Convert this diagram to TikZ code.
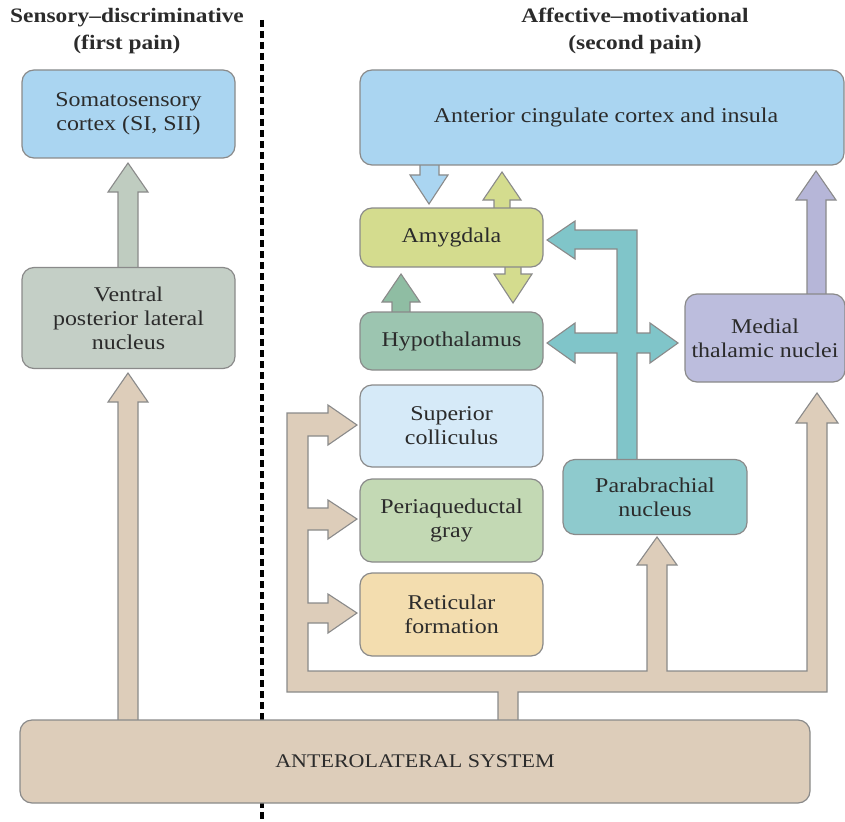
\documentclass[tikz,border=0pt]{standalone}
\usepackage{fontspec}
\setmainfont[FakeStretch=1.14]{Liberation Serif}
\definecolor{txt}{HTML}{2B2B2B}
\definecolor{bord}{HTML}{8A8A8A}
\definecolor{ssblue}{HTML}{AAD5F1}
\definecolor{vplgray}{HTML}{C4CFC6}
\definecolor{amygreen}{HTML}{D4DC8E}
\definecolor{hypgreen}{HTML}{9CC5B0}
\definecolor{scblue}{HTML}{D6EAF8}
\definecolor{paggreen}{HTML}{C3D9B4}
\definecolor{rfyellow}{HTML}{F3DDAF}
\definecolor{pbteal}{HTML}{8ECACD}
\definecolor{mtnlav}{HTML}{BCBDDD}
\definecolor{tanc}{HTML}{DDCDBA}
\definecolor{sagearrow}{HTML}{BFCCC0}
\definecolor{tealarrow}{HTML}{80C5C9}
\definecolor{hyparrow}{HTML}{8FBDA3}
\definecolor{lavarrow}{HTML}{B6B6D8}
\begin{document}
\begin{tikzpicture}[x=1pt,y=-1pt,
  box/.style={draw=bord, line width=1.2pt, rounded corners=12pt, inner sep=0pt,
    text=txt, align=center, font=\fontsize{21}{24}\selectfont},
  blk/.style={draw=bord, line width=1.1pt, line join=miter},
  header/.style={text=txt, align=center, font=\bfseries\fontsize{20.5}{26.5}\selectfont}]
\useasboundingbox (0,0) rectangle (845,821);

% divider
\draw[line width=3.5pt, dash pattern=on 7pt off 4pt] (262,20) -- (262,821);

% headers
\node[header] (hleft) at (127,31) {Sensory--discriminative\\(first pain)};
\node[header] (hright) at (635,31) {Affective--motivational\\(second pain)};

% block arrows (drawn below the boxes)
\draw[blk, fill=sagearrow] (118,272) -- (118,192) -- (108,192) -- (128,163) -- (148,192) -- (138,192) -- (138,272) -- cycle;
\draw[blk, fill=tanc] (118,725) -- (118,402) -- (108,402) -- (128,373) -- (148,402) -- (138,402) -- (138,725) -- cycle;
\draw[blk, fill=ssblue] (420,160) -- (420,175) -- (410,175) -- (429,204) -- (448,175) -- (439,175) -- (439,160) -- cycle;
\draw[blk, fill=amygreen] (494,214) -- (494,200) -- (483,200) -- (502,172) -- (521,200) -- (510,200) -- (510,214) -- cycle;
\draw[blk, fill=amygreen] (505,260) -- (505,274) -- (494,274) -- (513,303) -- (532,274) -- (521,274) -- (521,260) -- cycle;
\draw[blk, fill=hyparrow] (392,318) -- (392,302) -- (382,302) -- (401,274) -- (420,302) -- (410,302) -- (410,318) -- cycle;
\draw[blk, fill=tealarrow] (617,463) -- (617,353) -- (575,353) -- (575,363) -- (547,343) -- (575,323) -- (575,333) -- (617,333) -- (617,249) -- (575,249) -- (575,259) -- (547,240) -- (575,221) -- (575,230) -- (637,230) -- (637,333) -- (650,333) -- (650,323) -- (678,343) -- (650,363) -- (650,353) -- (637,353) -- (637,463) -- cycle;
\draw[blk, fill=lavarrow] (807,300) -- (807,200) -- (796,200) -- (816,171) -- (836,200) -- (826,200) -- (826,300) -- cycle;
\draw[blk, fill=tanc] (498,725) -- (498,692) -- (287,692) -- (287,413) -- (328,413) -- (328,405) -- (357,425) -- (328,445) -- (328,436) -- (308,436) -- (308,508) -- (328,508) -- (328,500) -- (357,519) -- (328,539) -- (328,530) -- (308,530) -- (308,603) -- (328,603) -- (328,594) -- (357,613) -- (328,633) -- (328,623) -- (308,623) -- (308,671) -- (647,671) -- (647,565) -- (637,565) -- (657,537) -- (677,565) -- (667,565) -- (667,671) -- (807,671) -- (807,423) -- (796,423) -- (817,393) -- (838,423) -- (827,423) -- (827,692) -- (518,692) -- (518,725) -- cycle;

% boxes
\node[box, fill=ssblue, minimum width=213pt, minimum height=88pt] (ss) at (128.5,114) {Somatosensory\\cortex (SI, SII)};
\node[box, fill=vplgray, minimum width=213pt, minimum height=101pt] (vpl) at (128.5,318) {Ventral\\posterior lateral\\nucleus};
\node[box, fill=ssblue, minimum width=484pt, minimum height=95pt] (acc) at (602,117.5) {\hspace*{8pt}Anterior cingulate cortex and insula};
\node[box, fill=amygreen, minimum width=183pt, minimum height=59pt] (amy) at (451.5,237.5) {Amygdala};
\node[box, fill=hypgreen, minimum width=183pt, minimum height=58pt] (hyp) at (451.5,341) {Hypothalamus};
\node[box, fill=scblue, minimum width=183pt, minimum height=82pt] (sc) at (451.5,426) {Superior\\colliculus};
\node[box, fill=paggreen, minimum width=183pt, minimum height=83pt] (pag) at (451.5,520.5) {Periaqueductal\\gray};
\node[box, fill=rfyellow, minimum width=183pt, minimum height=83pt] (rf) at (451.5,614.5) {Reticular\\formation};
\node[box, fill=pbteal, minimum width=184pt, minimum height=75pt] (pb) at (655,497) {Parabrachial\\nucleus};
\node[box, fill=mtnlav, minimum width=160pt, minimum height=88pt] (mtn) at (765,338) {Medial\\thalamic nuclei};
\node[box, fill=tanc, minimum width=790pt, minimum height=83pt, font=\fontsize{19.3}{23}\selectfont] (als) at (415,761.5) {ANTEROLATERAL SYSTEM};
\end{tikzpicture}
\end{document}
